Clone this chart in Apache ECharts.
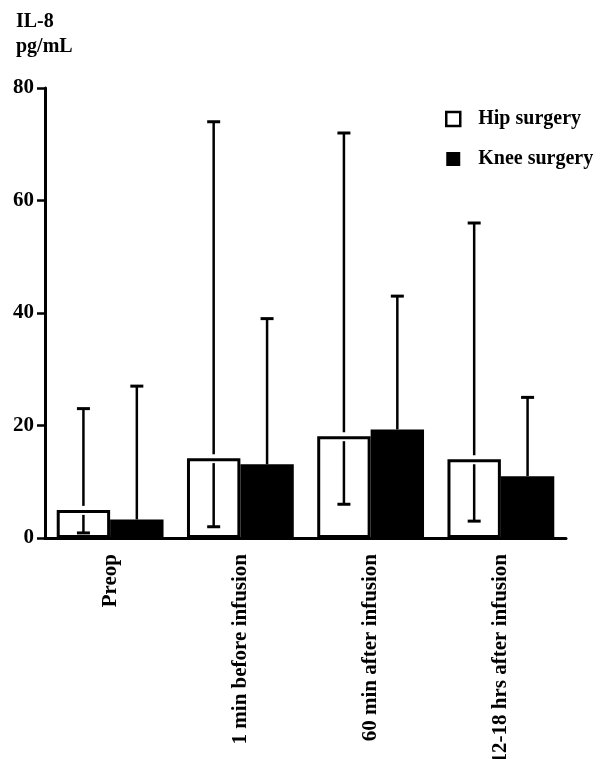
<!DOCTYPE html>
<html><head><meta charset="utf-8">
<script src="https://cdn.jsdelivr.net/npm/echarts@6/dist/echarts.min.js"></script>
<style>html,body{margin:0;padding:0;background:#fff}#c{width:603px;height:759px}</style>
</head><body><div id="c"></div>
<script>
const categories = ['Preop', '1 min before infusion', '60 min after infusion', '12-18 hrs after infusion'];
const hipMean = [5.0, 14.2, 18.1, 14.0];
const hipLow = [0.9, 2.0, 6.0, 3.0];
const hipHigh = [23, 74, 72, 56];
const kneeMean = [3.3, 13.1, 19.3, 11.0];
const kneeHigh = [27, 39, 43, 25];
const yTicks = [0, 20, 40, 60, 80];

const FONT = 'Liberation Serif';
const chart = echarts.init(document.getElementById('c'));

function errItem(offsetSign, withLow) {
  return function (params, api) {
    const idx = api.value(0);
    const mean = api.value(1);
    const high = api.value(2);
    const low = api.value(3);
    const band = api.size([1, 0])[0];
    const c = api.coord([idx, mean]);
    const x = c[0] + offsetSign * band * 0.205;
    const yMean = c[1];
    const yHigh = api.coord([idx, high])[1];
    const capW = 13;
    const st = { stroke: '#000', lineWidth: 2.5 };
    const capSt = { stroke: '#000', lineWidth: 3 };
    const children = [
      { type: 'line', shape: { x1: x, y1: withLow ? yMean - 4 : yMean, x2: x, y2: yHigh }, style: st },
      { type: 'line', shape: { x1: x - capW / 2, y1: yHigh, x2: x + capW / 2, y2: yHigh }, style: capSt }
    ];
    if (withLow) {
      const yLow = api.coord([idx, low])[1];
      children.push({ type: 'line', shape: { x1: x, y1: yMean + 5, x2: x, y2: yLow }, style: st });
      children.push({ type: 'line', shape: { x1: x - capW / 2, y1: yLow, x2: x + capW / 2, y2: yLow }, style: capSt });
    }
    return { type: 'group', children: children };
  };
}

const option = {
  animation: false,
  backgroundColor: '#fff',
  title: {
    text: 'IL-8\npg/mL',
    left: 11, top: 4,
    textStyle: { fontFamily: FONT, fontWeight: 'bold', fontSize: 20, color: '#000', lineHeight: 25 }
  },
  legend: {
    orient: 'vertical',
    left: 440, top: 104,
    itemWidth: 14, itemHeight: 14,
    itemGap: 20,
    data: [
      { name: 'Hip surgery', icon: 'rect', itemStyle: { color: '#fff', borderColor: '#000', borderWidth: 2.5 } },
      { name: 'Knee surgery', icon: 'rect', itemStyle: { color: '#000' } }
    ],
    textStyle: { fontFamily: FONT, fontWeight: 'bold', fontSize: 20, color: '#000', padding: [0, 0, 0, 13] }
  },
  grid: { left: 45, right: 37, top: 88, bottom: 221, containLabel: false, outerBoundsMode: 'none' },
  xAxis: {
    type: 'category',
    data: categories,
    axisLine: { lineStyle: { color: '#000', width: 3 } },
    axisTick: { alignWithLabel: true, length: 9, lineStyle: { color: '#000', width: 2.5 } },
    axisLabel: { rotate: 90, margin: 16, interval: 0, fontFamily: FONT, fontWeight: 'bold', fontSize: 21, color: '#000' }
  },
  yAxis: {
    type: 'value', min: 0, max: 80, interval: 20,
    axisLine: { show: true, lineStyle: { color: '#000', width: 3 } },
    axisTick: { show: true, length: 8, lineStyle: { color: '#000', width: 2.5 } },
    splitLine: { show: false },
    axisLabel: {
      margin: 11, fontFamily: FONT, fontWeight: 'bold', fontSize: 21, color: '#000',
      formatter: function (v) { return yTicks.indexOf(v) >= 0 ? String(v) : ''; }
    }
  },
  series: [
    {
      name: 'Hip surgery', type: 'bar', data: hipMean,
      barGap: '0%', barCategoryGap: '18%',
      itemStyle: { color: '#fff', borderColor: '#000', borderWidth: 3 }
    },
    {
      name: 'Knee surgery', type: 'bar', data: kneeMean,
      itemStyle: { color: '#000' }
    },
    {
      type: 'custom', z: 5,
      renderItem: errItem(-1, true),
      data: categories.map((c, i) => [i, hipMean[i], hipHigh[i], hipLow[i]])
    },
    {
      type: 'custom', z: 5,
      renderItem: errItem(1, false),
      data: categories.map((c, i) => [i, kneeMean[i], kneeHigh[i], kneeMean[i]])
    }
  ]
};
chart.setOption(option);
</script></body></html>
